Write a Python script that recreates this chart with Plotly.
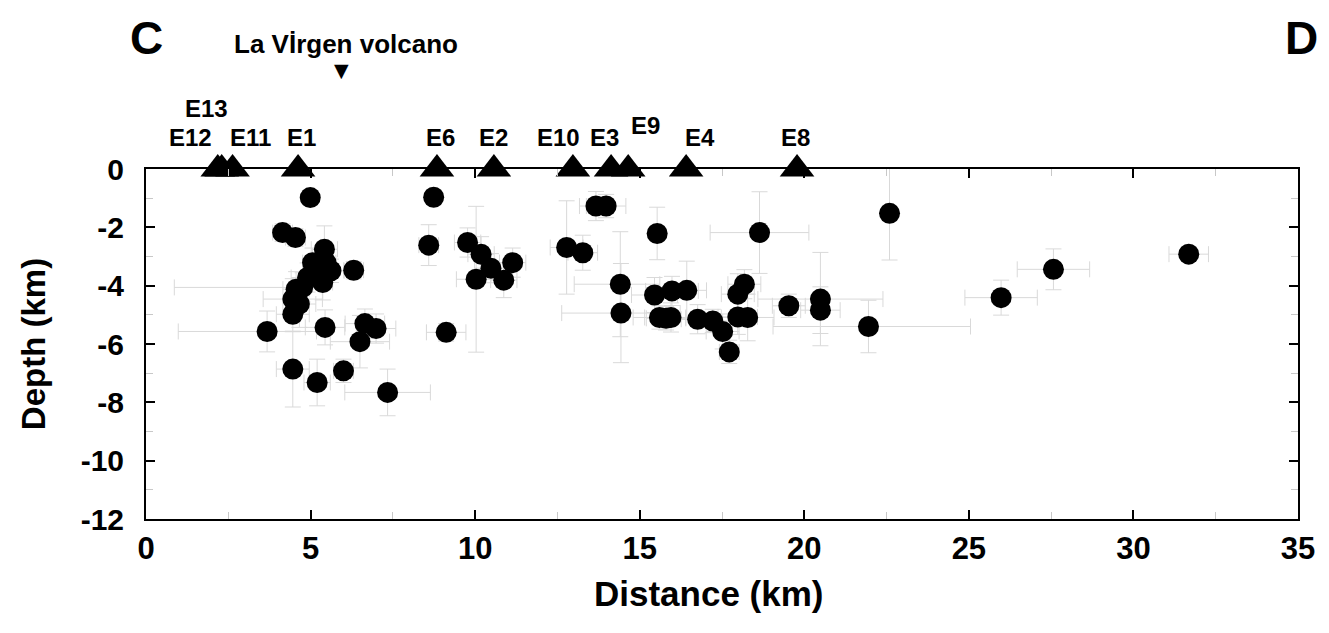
import plotly.graph_objects as go

# ---- data ----
dist = [4.99, 4.15, 4.54, 5.42, 5.06, 5.47, 5.62, 5.27, 5.37, 4.91, 4.76, 4.56, 4.46, 4.66, 4.46,
        6.31, 3.68, 5.44, 6.65, 6.99, 6.50, 4.46, 5.20, 6.00, 7.34,
        8.74, 8.59, 9.12, 9.77, 10.18, 11.14, 10.48, 10.03, 10.87,
        13.67, 13.98, 12.78, 13.27, 14.41, 14.43, 15.53, 15.45, 15.98, 16.43,
        15.60, 15.95, 15.80, 16.76, 17.22, 17.52, 17.72, 17.98, 18.28, 18.18, 17.98,
        18.64, 19.53, 20.49, 20.49, 21.95, 22.59, 25.98, 27.57, 31.68]
depth = [-0.98, -2.18, -2.35, -2.75, -3.21, -3.21, -3.49, -3.55, -3.89, -3.72, -4.06, -4.12, -4.46, -4.63, -4.98,
         -3.47, -5.57, -5.43, -5.30, -5.47, -5.92, -6.86, -7.32, -6.92, -7.66,
         -0.97, -2.61, -5.60, -2.52, -2.92, -3.21, -3.40, -3.78, -3.81,
         -1.27, -1.27, -2.69, -2.87, -3.95, -4.94, -2.21, -4.32, -4.18, -4.16,
         -5.09, -5.09, -5.12, -5.15, -5.21, -5.57, -6.27, -5.07, -5.09, -3.95, -4.29,
         -2.18, -4.69, -4.46, -4.84, -5.40, -1.52, -4.41, -3.44, -2.92]
dist_err_plus = [0.2, 0.3, 0.3, 0.4, 0.3, 0.3, 0.4, 0.4, 0.3, 0.5, 0.6, 0.4, 0.9, 0.5, 0.5,
                 0.3, 1.5, 0.6, 0.6, 0.6, 0.9, 0.5, 0.4, 0.3, 1.3,
                 0.2, 0.3, 0.6, 0.4, 0.4, 0.4, 0.5, 0.6, 0.4,
                 0.5, 0.6, 0.5, 0.45, 1.2, 1.8, 0.2, 0.7, 0.8, 0.6,
                 0.8, 0.8, 0.6, 0.5, 0.6, 0.5, 0.3, 0.6, 0.8, 0.5, 0.5,
                 1.5, 0.5, 1.9, 0.6, 3.1, 0.2, 1.1, 1.1, 0.6]
dist_err_minus = [0.2, 0.3, 0.3, 0.4, 0.3, 0.3, 0.4, 0.4, 0.3, 0.5, 3.9, 0.4, 0.9, 0.5, 0.5,
                  0.3, 2.7, 0.6, 0.6, 0.6, 0.9, 0.5, 0.4, 0.3, 1.3,
                  0.2, 0.3, 0.6, 0.4, 0.4, 0.4, 0.5, 0.6, 0.4,
                  0.5, 0.6, 0.5, 0.45, 1.4, 1.8, 0.2, 0.7, 0.8, 0.6,
                  0.8, 0.8, 0.6, 0.5, 0.6, 0.5, 0.3, 0.6, 0.8, 0.5, 0.5,
                  1.5, 0.5, 1.9, 0.6, 2.9, 0.2, 1.1, 1.1, 0.6]
depth_err = [0.2, 0.3, 0.3, 0.8, 0.5, 0.4, 0.4, 0.5, 0.6, 0.5, 0.5, 0.6, 0.7, 0.8, 0.6,
             0.3, 0.7, 0.6, 0.5, 0.5, 0.9, 1.3, 0.8, 0.4, 0.8,
             0.2, 0.7, 0.3, 0.5, 0.6, 0.5, 0.5, 2.5, 0.6,
             0.5, 0.4, 1.6, 0.6, 1.8, 1.7, 0.9, 0.6, 0.5, 1.0,
             0.4, 0.5, 0.4, 0.5, 0.4, 0.6, 0.4, 0.6, 0.8, 0.5, 0.7,
             1.4, 0.4, 1.6, 0.8, 0.9, 1.6, 0.6, 0.7, 0.2]

stations = ["E12", "E13", "E11", "E1", "E6", "E2", "E10", "E3", "E9", "E4", "E8"]
station_dist = [2.18, 2.30, 2.63, 4.62, 8.84, 10.57, 12.97, 14.13, 14.65, 16.41, 19.78]
station_depth = [0] * len(stations)

volcano_name = "La Vİrgen volcano"
volcano_dist = 5.93

x_ticks = [0, 5, 10, 15, 20, 25, 30, 35]
y_ticks = [0, -2, -4, -6, -8, -10, -12]

# ---- label styling (pixel offsets / paper heights) ----
label_style = {
    "E12": (-27, 1.091), "E13": (-15, 1.174), "E11": (18, 1.091), "E1": (3, 1.091),
    "E6": (4, 1.091), "E2": (0, 1.091), "E10": (-14, 1.091), "E3": (-7, 1.091),
    "E9": (17, 1.123), "E4": (14, 1.091), "E8": (-2, 1.091),
}

FONT = "Liberation Sans, Arial, Helvetica, sans-serif"

fig = go.Figure()

fig.add_trace(go.Scatter(
    x=dist, y=depth, mode="markers",
    marker=dict(color="black", size=21, line=dict(width=0)),
    error_x=dict(type="data", array=dist_err_plus, arrayminus=dist_err_minus,
                 color="#d9d9d9", thickness=1, width=8),
    error_y=dict(type="data", array=depth_err, color="#d9d9d9", thickness=1, width=8),
    showlegend=False, cliponaxis=False,
))

fig.add_trace(go.Scatter(
    x=station_dist, y=station_depth, mode="markers",
    marker=dict(symbol="triangle-up", color="black", size=30, line=dict(width=0)),
    showlegend=False, cliponaxis=False,
))

annotations = []
for name, xd in zip(stations, station_dist):
    xs, yp = label_style[name]
    annotations.append(dict(x=xd, xref="x", y=yp, yref="paper", yanchor="middle",
                            text=f"<b>{name}</b>",
                            showarrow=False, xshift=xs, font=dict(size=24, family=FONT, color="black")))
annotations.append(dict(x=volcano_dist, xref="x", y=1.357, yref="paper", yanchor="middle",
                        text=f"<b>{volcano_name}</b>",
                        showarrow=False, xshift=5, font=dict(size=26, family=FONT, color="black")))
annotations.append(dict(x=volcano_dist, xref="x", y=1.284, yref="paper", yanchor="middle",
                        text="▼", showarrow=False,
                        font=dict(size=19, family="DejaVu Sans", color="black")))
annotations.append(dict(x=0.0, xref="paper", y=1.374, yref="paper", xanchor="center", yanchor="middle",
                        text="<b>C</b>", showarrow=False, font=dict(size=46, family=FONT, color="black")))
annotations.append(dict(x=1.0, xref="paper", y=1.374, yref="paper", xanchor="center", yanchor="middle",
                        text="<b>D</b>", showarrow=False, xshift=3,
                        font=dict(size=46, family=FONT, color="black")))
annotations.append(dict(x=0.489, xref="paper", y=592, yref="paper", yanchor="middle",
                        text="<b>Distance (km)</b>", showarrow=False,
                        font=dict(size=35, family=FONT, color="black")))
annotations[-1]["y"] = (518 - 592) / 350.0

fig.update_layout(
    width=1329, height=633,
    margin=dict(l=138, r=39, t=161, b=122),
    plot_bgcolor="white", paper_bgcolor="white",
    annotations=annotations,
    font=dict(family=FONT, color="black"),
)

fig.update_xaxes(
    range=[0, 35], tickvals=x_ticks, ticktext=[f"<b>{v}</b>" for v in x_ticks],
    showgrid=False, zeroline=False,
    showline=True, linecolor="black", linewidth=2, mirror="ticks",
    ticks="inside", ticklen=9, tickwidth=1.5, tickcolor="black",
    minor=dict(dtick=2.5, ticks="inside", ticklen=7, tickcolor="#c8c8c8", tickwidth=1),
    tickfont=dict(size=31, family=FONT), ticklabelstandoff=1,
)
fig.update_yaxes(
    range=[-12, 0], tickvals=y_ticks, ticktext=[f"<b>{v}</b>" for v in y_ticks],
    showgrid=False, zeroline=False,
    showline=True, linecolor="black", linewidth=2, mirror="ticks",
    ticks="inside", ticklen=9, tickwidth=1.5, tickcolor="black",
    minor=dict(dtick=1, ticks="inside", ticklen=7, tickcolor="#c8c8c8", tickwidth=1),
    tickfont=dict(size=30, family=FONT), ticklabelstandoff=14,
    title=dict(text="<b>Depth (km)</b>", font=dict(size=33, family=FONT), standoff=25),
)

fig.write_html("out.html")
